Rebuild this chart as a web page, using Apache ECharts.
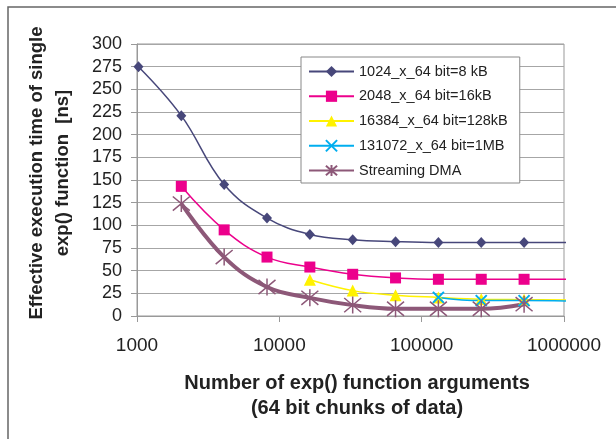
<!DOCTYPE html>
<html><head><meta charset="utf-8">
<script src="https://cdn.jsdelivr.net/npm/echarts@6/dist/echarts.min.js"></script>
<style>html,body{margin:0;padding:0;background:#fff}#c{width:616px;height:439px}</style>
</head><body><div id="c"></div>
<script>
// Data
const xs = [1024, 2048, 4096, 8192, 16384, 32768, 65536, 131072, 262144, 524288];
const xEnd = 1200000; // line continues past last marker without a marker
const s8kB   = [275, 221, 145, 108, 90, 84, 82, 81, 81, 81];
const s8kBEnd = 81;
const s16kB  = [null, 143, 95, 65, 54, 46, 42, 40.5, 40.5, 40.5];
const s16kBEnd = 40.5;
const s128kB = [null, null, null, null, 40, 28, 23, 20.5, 18.5, 18];
const s128kBEnd = 17.5;
const s1MB   = [null, null, null, null, null, null, null, 20.5, 17, 17];
const s1MBEnd = 16.3;
const sDMA   = [null, 124, 65, 32, 20, 12, 8, 8, 8, 13];
const names = ['1024_x_64 bit=8 kB', '2048_x_64 bit=16kB', '16384_x_64 bit=128kB', '131072_x_64 bit=1MB', 'Streaming DMA'];
const yTicks = {min: 0, max: 300, step: 25};
const xTicks = {min: 1000, max: 1000000};

function pts(vals, endVal) {
  const out = [];
  xs.forEach((x, i) => { if (vals[i] != null) out.push([x, vals[i]]); });
  if (endVal != null) out.push({value: [xEnd, endVal], symbol: 'none'});
  return out;
}

const FONT = 'Liberation Sans, Arial, sans-serif';
const chart = echarts.init(document.getElementById('c'));
const xPath = 'path://M0,0L10,10M10,0L0,10';
const starPath = 'path://M0,0L10,10M10,0L0,10M5,-1L5,11';

chart.setOption({
  animation: false,
  backgroundColor: '#fff',
  grid: {left: 137, right: 52, top: 44, bottom: 123, show: true, borderColor: '#999', borderWidth: 1, backgroundColor: 'transparent'},
  xAxis: {
    type: 'log', logBase: 10, min: xTicks.min, max: xTicks.max,
    axisLine: {lineStyle: {color: '#999'}},
    axisTick: {show: true, length: 6, lineStyle: {color: '#999'}},
    minorTick: {show: false},
    splitLine: {show: false},
    axisLabel: {fontFamily: FONT, fontSize: 19, color: '#222', margin: 20, formatter: v => String(Math.round(v))}
  },
  yAxis: {
    type: 'value', min: yTicks.min, max: yTicks.max, interval: yTicks.step,
    axisLine: {show: true, lineStyle: {color: '#999'}},
    axisTick: {show: true, length: 6, lineStyle: {color: '#999'}},
    splitLine: {lineStyle: {color: '#a6a6a6'}},
    axisLabel: {fontFamily: FONT, fontSize: 18, color: '#222', margin: 15}
  },
  legend: {
    orient: 'vertical', left: 301, top: 57,
    padding: [7, 12, 5, 7],
    itemWidth: 45, itemHeight: 14, itemGap: 9.75,
    backgroundColor: '#fff', borderColor: '#888', borderWidth: 1, borderRadius: 0,
    textStyle: {fontFamily: FONT, fontSize: 14.5, color: '#222'},
    data: names
  },
  graphic: [
    {type: 'rect', silent: true, z: -10, shape: {x: 8, y: 7, width: 700, height: 500}, style: {fill: 'none', stroke: '#666', lineWidth: 1.5}},
    {type: 'text', x: 50, y: 173, rotation: Math.PI / 2,
     style: {text: 'Effective execution time of single\nexp() function  [ns]', fontFamily: FONT, fontSize: 18.5, fontWeight: 'bold', fill: '#222', align: 'center', verticalAlign: 'middle', lineHeight: 26}},
    {type: 'text', x: 357, y: 396,
     style: {text: 'Number of exp() function arguments\n(64 bit chunks of data)', fontFamily: FONT, fontSize: 20, fontWeight: 'bold', fill: '#222', align: 'center', verticalAlign: 'middle', lineHeight: 25}}
  ],
  series: [
    {name: names[0], type: 'line', smooth: 0.4, clip: false, data: pts(s8kB, s8kBEnd),
     symbol: 'diamond', symbolSize: [10, 11], itemStyle: {color: '#47477a'}, lineStyle: {color: '#47477a', width: 1.5}},
    {name: names[1], type: 'line', smooth: 0.4, clip: false, data: pts(s16kB, s16kBEnd),
     symbol: 'rect', symbolSize: 11, itemStyle: {color: '#ec008c'}, lineStyle: {color: '#ec008c', width: 1.5}},
    {name: names[2], type: 'line', smooth: 0.4, clip: false, data: pts(s128kB, s128kBEnd),
     symbol: 'triangle', symbolSize: 12, itemStyle: {color: '#fff200'}, lineStyle: {color: '#fff200', width: 1.5}},
    {name: names[3], type: 'line', smooth: 0.4, clip: false, data: pts(s1MB, s1MBEnd),
     symbol: xPath, symbolSize: 11, itemStyle: {color: '#00aeef', borderColor: '#00aeef', borderWidth: 2}, lineStyle: {color: '#00aeef', width: 1.5}},
    {name: names[4], type: 'line', smooth: 0.4, clip: false, data: pts(sDMA, null),
     symbol: starPath, symbolSize: 17, itemStyle: {color: '#8d5878', borderColor: '#8d5878', borderWidth: 1.5}, lineStyle: {color: '#8d5878', width: 4}}
  ]
});
</script>
</body></html>
